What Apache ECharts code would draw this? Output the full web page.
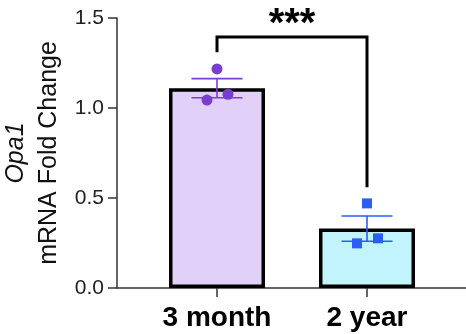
<!DOCTYPE html>
<html><head><meta charset="utf-8">
<script src="https://cdn.jsdelivr.net/npm/echarts@6/dist/echarts.min.js"></script>
<style>html,body{margin:0;padding:0;background:#fff}#c{width:466px;height:334px}</style>
</head><body><div id="c"></div>
<script>
var categories = ['3 month', '2 year'];
var catPos = [1, 2];
var means = [1.11, 0.33];
var sems = [0.053, 0.070];
var points3m = [1.217, 1.044, 1.076];
var points2y = [0.470, 0.248, 0.276];
var yTicks = [0, 0.5, 1.0, 1.5];
var sigLabel = '***';
var sigBracket = {y: 1.395, leftEnd: 1.31, rightEnd: 0.56};

var fills = ['#e1d0f8', '#c1f4fd'];
var ptColors = ['#7a3ecf', '#2a5ef6'];
var jitter = [0, -10, 11];
var FONT = 'Liberation Sans, Arial, sans-serif';

var chart = echarts.init(document.getElementById('c'), null, {renderer: 'canvas'});
var option = {
  animation: false,
  grid: {left: 117, right: 0, top: 18, bottom: 46, containLabel: false, outerBoundsMode: 'none'},
  xAxis: {
    type: 'value', min: 1 - 100/150, max: 1 + 249/150,
    splitLine: {show: false},
    axisLine: {lineStyle: {color: '#333', width: 1.5}},
    axisTick: {show: true, customValues: catPos, length: 9, lineStyle: {color: '#333', width: 1.5}},
    axisLabel: {customValues: catPos, formatter: function(v){ var i = catPos.indexOf(Math.round(v)); return i>=0?categories[i]:''; },
      color: '#000', fontWeight: 'bold', fontSize: 28, fontFamily: FONT, margin: 16}
  },
  yAxis: {
    type: 'value', min: 0, max: 1.5, interval: 0.5,
    splitLine: {show: false},
    axisLine: {show: true, lineStyle: {color: '#333', width: 1.5}},
    axisTick: {show: true, length: 9, lineStyle: {color: '#333', width: 1.5}},
    axisLabel: {formatter: function(v){return v.toFixed(1);}, color: '#222', fontSize: 21, fontFamily: FONT, margin: 13},
    name: '{i|Opa1}\n{n|mRNA Fold Change}',
    nameLocation: 'middle', nameRotate: 90, nameGap: 51,
    nameTextStyle: {fontSize: 25, fontFamily: FONT, color: '#111', rich: {
      i: {fontStyle: 'italic', fontSize: 25, fontFamily: FONT, color: '#111', lineHeight: 33},
      n: {fontSize: 25, fontFamily: FONT, color: '#111', lineHeight: 33}
    }}
  },
  series: [
    {
      type: 'bar', barWidth: 96, z: 2,
      data: catPos.map(function(x, i){ return {value: [x, means[i]], itemStyle: {color: fills[i], borderColor: '#000', borderWidth: 3.5}}; })
    },
    {
      type: 'custom', z: 3,
      data: catPos.map(function(x, i){ return [x, means[i], sems[i], i]; }),
      renderItem: function(params, api){
        var x = api.value(0), m = api.value(1), s = api.value(2), i = api.value(3);
        var top = api.coord([x, m + s]), bot = api.coord([x, m - s]);
        var hw = 25.5, c = ptColors[i];
        var st = {stroke: c, lineWidth: 1.6};
        return {type: 'group', children: [
          {type: 'line', shape: {x1: top[0], y1: top[1], x2: bot[0], y2: bot[1]}, style: st},
          {type: 'line', shape: {x1: top[0]-hw, y1: top[1], x2: top[0]+hw, y2: top[1]}, style: st},
          {type: 'line', shape: {x1: bot[0]-hw, y1: bot[1], x2: bot[0]+hw, y2: bot[1]}, style: st}
        ]};
      }
    },
    {
      type: 'scatter', z: 4, symbol: 'circle', symbolSize: 11,
      itemStyle: {color: ptColors[0], opacity: 1},
      data: points3m.map(function(v, j){ return {value: [catPos[0], v], symbolOffset: [jitter[j], 0]}; })
    },
    {
      type: 'scatter', z: 4, symbol: 'rect', symbolSize: 10,
      itemStyle: {color: ptColors[1], opacity: 1},
      data: points2y.map(function(v, j){ return {value: [catPos[1], v], symbolOffset: [jitter[j], 0]}; })
    },
    {
      type: 'custom', z: 5,
      data: [[catPos[0], catPos[1], sigBracket.y, sigBracket.leftEnd, sigBracket.rightEnd]],
      renderItem: function(params, api){
        var a = api.coord([api.value(0), api.value(2)]);
        var b = api.coord([api.value(1), api.value(2)]);
        var la = api.coord([api.value(0), api.value(3)]);
        var rb = api.coord([api.value(1), api.value(4)]);
        return {type: 'group', children: [
          {type: 'polyline', shape: {points: [la, a, b, rb]}, style: {stroke: '#000', lineWidth: 3, fill: null, lineJoin: 'miter'}},
          {type: 'text', x: (a[0]+b[0])/2, y: a[1] + 8, style: {text: sigLabel, fill: '#000', font: 'bold 40px ' + FONT, align: 'center', verticalAlign: 'bottom'}}
        ]};
      }
    }
  ]
};
chart.setOption(option);
</script>
</body></html>
